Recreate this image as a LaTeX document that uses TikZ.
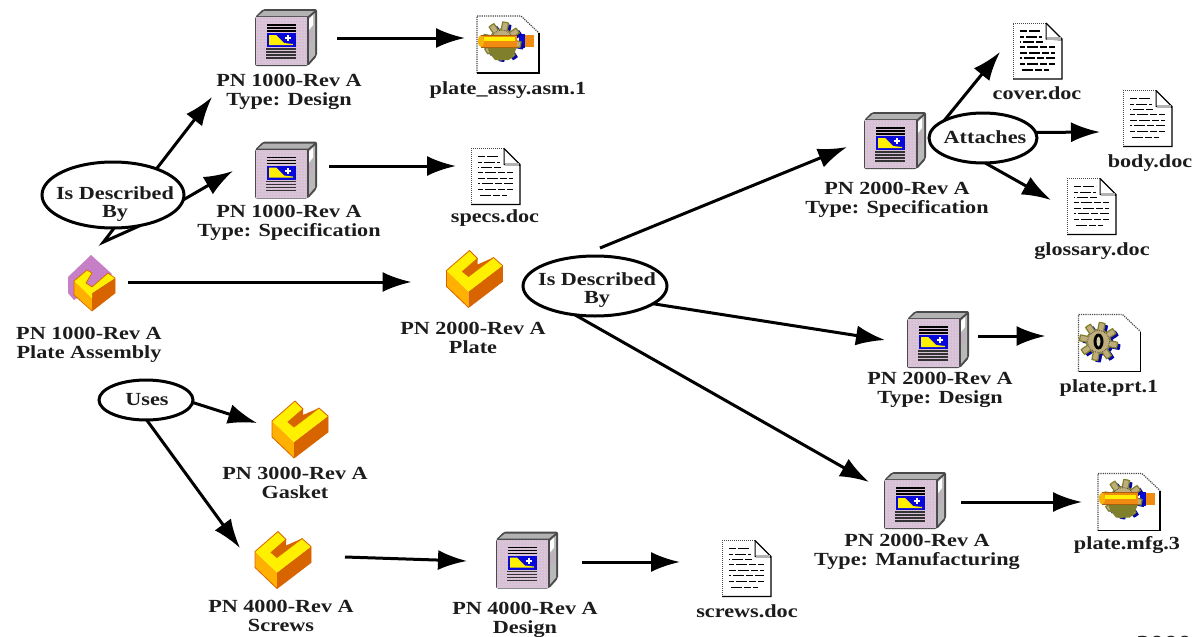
\documentclass[tikz,border=0pt]{standalone}
\usepackage{fontspec}
\setmainfont[FakeStretch=1.2]{Liberation Serif}
\usetikzlibrary{arrows.meta,shapes.geometric,calc,patterns}
\definecolor{ink}{HTML}{1C1C1C}
\definecolor{bindfill}{HTML}{DCC4DA}
\definecolor{bindedge}{HTML}{4A4A4A}
\definecolor{imgblue}{HTML}{0808D8}
\definecolor{partyel}{HTML}{FFF000}
\definecolor{partlight}{HTML}{FFB000}
\definecolor{partdark}{HTML}{D86400}
\definecolor{partpurple}{HTML}{C87CC8}
\definecolor{gearfill}{HTML}{BFAE7C}
\definecolor{gearolive}{HTML}{80802C}
\definecolor{axle}{HTML}{F08A10}
\tikzset{
  x=1pt,y=-1pt,
  arr/.style={line width=3pt,draw=black,-{Latex[length=29pt,width=20pt]}},
  plainline/.style={line width=3pt,draw=black,line join=miter},
  lab/.style={font=\fontsize{18.5}{18.4}\selectfont\bfseries,text=ink,align=center,inner sep=0pt,outer sep=0pt},
  oval/.style={ellipse,draw=black,line width=3pt,inner sep=0pt,outer sep=0pt},
  iconbox/.style={rectangle,inner sep=0pt,outer sep=0pt,minimum width=#1},
  binder/.pic={
    \fill[bindedge,rounded corners=2pt] (0,8) -- (8,0) -- (62,0) -- (62,47) -- (53,57) -- (0,57) -- cycle;
    \fill[gray!60] (3,7) -- (9,2) -- (59,2) -- (53,7) -- cycle;
    \fill[gray!55] (54,9) -- (60,4) -- (60,46) -- (54,53) -- cycle;
    \fill[white] (54,10) -- (58,6) -- (58,16) -- (54,21) -- cycle;
    \fill[bindfill!70!gray] (54,24) -- (58,20) -- (58,30) -- (54,35) -- cycle;
    \fill[bindfill] (1,8) rectangle (52,56);
    \fill[pattern=dots,pattern color=gray!70] (1,8) rectangle (52,56);
    \foreach \yy in {16,19,22} {\draw[black,line width=1.2pt] (12,\yy) -- (41,\yy);}
    \fill[imgblue] (12,24) rectangle (41,38);
    \fill[partyel] (14,26) -- (21,26) -- (29,34) -- (38,35) -- (38,36) -- (14,36) -- cycle;
    \fill[white] (31.5,26) rectangle (33.5,32);
    \fill[white] (29.5,28) rectangle (35.5,30);
    \foreach \yy in {40,43,46,49} {\draw[black!80,line width=1.2pt] (11,\yy) -- (41,\yy);}
  },
  part/.pic={
    \fill[partlight] (0,20) -- (22,41) -- (22,57) -- (0,36) -- cycle;
    \fill[partdark] (22,41) -- (56,15) -- (56,31) -- (22,57) -- cycle;
    \fill[partdark] (31,8) -- (31,14) -- (47,7) -- (22,26) -- (16,21) -- cycle;
    \fill[partyel] (0,20) -- (23,0) -- (31,8) -- (16,21) -- (22,26) -- (47,7) -- (56,15) -- (22,41) -- cycle;
    \draw[partdark,line width=0.8pt,line join=round] (0,20) -- (23,0) -- (31,8) -- (16,21) -- (22,26) -- (47,7) -- (56,15) -- (56,31) -- (22,57) -- (0,36) -- cycle;
  },
  asmpart/.pic={
    \fill[partpurple] (0,22) -- (23,0) -- (44,19) -- (30,30) -- (6,45) -- (0,38) -- cycle;
    \fill[pattern=dots,pattern color=gray!60] (0,22) -- (23,0) -- (44,19) -- (30,30) -- (6,45) -- (0,38) -- cycle;
    \fill[partlight] (6,26) -- (24,43) -- (24,56) -- (6,40) -- cycle;
    \fill[partdark] (24,38) -- (47,23) -- (47,38) -- (24,56) -- cycle;
    \fill[partyel] (6,26) -- (19,15) -- (24,18) -- (18,28) -- (24,32) -- (40,18) -- (47,23) -- (24,38) -- (24,43) -- cycle;
    \draw[partdark,line width=0.7pt] (6,26) -- (19,15) -- (24,18) -- (18,28) -- (24,32) -- (40,18) -- (47,23) -- (47,38) -- (24,56) -- (6,40) -- cycle;
  },
  docsheet/.pic={
    \fill[white] (0,0) -- (33,0) -- (49,16) -- (49,56) -- (0,56) -- cycle;
    \draw[bindedge,line width=1pt,densely dotted] (0,56) -- (0,0) -- (33,0);
    \draw[black,line width=1.3pt] (33,0) -- (49,16) -- (49,56) -- (0,56);
    \draw[black,line width=1pt] (33,0) -- (33,16) -- (49,17);
    \fill[gray!60] (33.5,14) rectangle (48,17);
  },
  docfile/.pic={
    \pic {docsheet};
    \foreach \yy/\xe/\ph in {8/29/0,14/29/3,19/30/6,24/42/2,30/42/0,35/42/5,41/42/2,47/36/7} {
      \draw[black,line width=1.6pt,dash pattern=on 7pt off 2pt on 11pt off 2pt,dash phase=\ph pt] (7,\yy) -- (\xe,\yy);
    }
  },
  widesheet/.pic={
    \fill[white] (0,0) -- (44,0) -- (62,17) -- (62,57) -- (0,57) -- cycle;
    \draw[bindedge,line width=1.2pt,densely dotted] (0,57) -- (0,0) -- (44,0) -- (62,17);
    \draw[black,line width=1.3pt] (62,17) -- (62,57) -- (0,57);
  },
  gearbody/.pic={
    \fill[imgblue!75!black] plot[domain=0:360,samples=145,shift={(3,2)}] ({\x}:{15.5+3.5*sign(sin(8*\x))}) -- cycle;
    \fill[gearfill,draw=gearolive,line width=1.2pt] plot[domain=0:360,samples=145] ({\x}:{15.5+3.5*sign(sin(8*\x))}) -- cycle;
    \draw[black!70,line width=0.8pt,densely dotted] (0,0) circle[radius=11];
  },
  gearplain/.pic={
    \pic {widesheet};
    \pic at (20,27) {gearbody};
    \fill[black] (20,27) ellipse[x radius=5,y radius=8];
    \fill[gearfill!60!white] (20,27) ellipse[x radius=2,y radius=5];
  },
  gearaxle/.pic={
    \pic {widesheet};
    \fill[axle] (46,19) rectangle (57,31);
    \fill[imgblue] (42,18) rectangle (48,32);
    \pic at (25,25) {gearbody};
    \fill[gearolive] (10,31) -- (40,31) -- (37,38) -- (32,44) -- (18,44) -- (13,38) -- cycle;
    \fill[axle] (4,19) rectangle (40,31);
    \fill[partyel] (7,21) rectangle (38,25);
    \fill[axle!60!partyel] (4,25) ellipse[x radius=3,y radius=6];
    \draw[axle!70!black,line width=0.7pt] (4,19) -- (40,19) (4,31) -- (40,31);
  }
}
\begin{document}
\begin{tikzpicture}
\useasboundingbox (0,0) rectangle (1195,637);
\clip (0,0) rectangle (1195,637);

% document (binder) icons
\node[iconbox=62,minimum height=57] (bina) at (286,37.5) {};
\node[iconbox=62,minimum height=57] (binb) at (286,170) {};
\node[iconbox=62,minimum height=57] (binc) at (895,140.5) {};
\node[iconbox=62,minimum height=57] (bind) at (938,339.5) {};
\node[iconbox=62,minimum height=57] (bine) at (915,500.5) {};
\node[iconbox=62,minimum height=57] (binf) at (527,560) {};
\foreach \n in {bina,binb,binc,bind,bine,binf} {\pic at (\n.north west) {binder};}

% parts
\node[iconbox=47,minimum height=56] (asm) at (91.5,283) {};
\pic at (asm.north west) {asmpart};
\node[iconbox=57,minimum height=57] (plate) at (475,279) {};
\node[iconbox=57,minimum height=57] (gasket) at (300.5,429.5) {};
\node[iconbox=57,minimum height=57] (screws) at (283.5,560) {};
\foreach \n in {plate,gasket,screws} {\pic at (\n.north west) {part};}

% plain files
\node[iconbox=50,minimum height=57] (cover) at (1038,51.5) {};
\node[iconbox=50,minimum height=57] (body) at (1148,119) {};
\node[iconbox=50,minimum height=57] (gloss) at (1092,207) {};
\node[iconbox=50,minimum height=57] (specs) at (496,177) {};
\node[iconbox=50,minimum height=57] (scdoc) at (747,569) {};
\foreach \n in {cover,body,gloss,specs,scdoc} {\pic at (\n.north west) {docfile};}

% model files
\node[iconbox=62,minimum height=57] (assyf) at (508,44.5) {};
\pic at (assyf.north west) {gearaxle};
\node[iconbox=62,minimum height=57] (prtf) at (1109.5,343) {};
\pic at (prtf.north west) {gearplain};
\node[iconbox=62,minimum height=57] (mfgf) at (1129,502) {};
\pic at (mfgf.north west) {gearaxle};

% labels
\node[lab] (la) at (289,92) {PN 1000-Rev A\\Type: Design};
\node[lab] (lb) at (289,223) {PN 1000-Rev A\\Type: Specification};
\node[lab] (lc) at (508,90) {plate\_assy.asm.1};
\node[lab] (ld) at (495,218) {specs.doc};
\node[lab] (le) at (89,345) {PN 1000-Rev A\\Plate Assembly};
\node[lab] (lf) at (473,338) {PN 2000-Rev A\\Plate};
\node[lab] (lg) at (897,200) {PN 2000-Rev A\\Type: Specification};
\node[lab] (lh) at (1037,93) {cover.doc};
\node[lab] (li) at (1150,163) {body.doc};
\node[lab] (lj) at (1092,251) {glossary.doc};
\node[lab] (lk) at (940,390) {PN 2000-Rev A\\Type: Design};
\node[lab] (ll) at (1109,388) {plate.prt.1};
\node[lab] (lm) at (917,552) {PN 2000-Rev A\\Type: Manufacturing};
\node[lab] (ln) at (1127,545) {plate.mfg.3};
\node[lab] (lo) at (295,483) {PN 3000-Rev A\\Gasket};
\node[lab] (lp) at (281,616) {PN 4000-Rev A\\Screws};
\node[lab] (lq) at (525,620) {PN 4000-Rev A\\Design};
\node[lab] (lr) at (747,611) {screws.doc};
\node[lab,font=\fontsize{23}{24}\selectfont\bfseries,anchor=base] (ls) at (1164,651) {2000};

% relation ovals
\node[oval,minimum width=142,minimum height=66] (ovala) at (113,195) {};
\node[lab] (ta) at (115,204) {Is Described\\By};
\node[oval,minimum width=144,minimum height=60] (ovalb) at (595,286) {};
\node[lab] (tb) at (597,290) {Is Described\\By};
\node[oval,minimum width=108,minimum height=50] (ovalc) at (983,138) {};
\node[lab] (tc) at (985,137) {Attaches};
\node[oval,minimum width=94,minimum height=40] (ovald) at (146,400) {};
\node[lab] (td) at (147,400) {Uses};

% connectors
\draw[arr] (ovala.31) -- ($(la)+(-77,5)$);
\draw[arr] (ovala.-4) -- ($(binb.west)+(-22,1)$);
\draw[plainline] (ovala.-48) -- ($(asm.north)+(12,-13)$) -- (ovala.-88);
\draw[arr] ($(asm.east)+(13,-1)$) -- ($(plate.west)+(-35,3)$);
\draw[arr] ($(bina.east)+(20,0.5)$) -- ($(assyf.west)+(-12,-6.5)$);
\draw[arr] ($(binb.east)+(12,-4)$) -- ($(specs.west)+(-15,-11)$);
\draw[arr] ($(ovalb.90)+(5,-8)$) -- ($(binc.west)+(-17,6.5)$);
\draw[arr] (ovalb.-17) -- ($(bind.west)+(-22,0.5)$);
\draw[arr] (ovalb.-125) -- ($(bine.west)+(-15,-18.5)$);
\draw[arr] (ovalc.156) -- ($(cover.west)+(-13,0.5)$);
\draw[arr] (ovalc.6) -- ($(body.west)+(-23,13)$);
\draw[arr] (ovalc.-85) -- ($(gloss.west)+(-16,-7)$);
\draw[arr] ($(bind.east)+(9,-3.5)$) -- ($(prtf.west)+(-33,-7)$);
\draw[arr] ($(bine.east)+(15,1.5)$) -- ($(mfgf.west)+(-16,0)$);
\draw[arr] (ovald.-3) -- ($(gasket.west)+(-15,-6.5)$);
\draw[arr] (ovald.-88) -- ($(screws.west)+(-15,-12)$);
\draw[arr] ($(screws.east)+(33,-3)$) -- ($(binf.west)+(-29,1)$);
\draw[arr] ($(binf.east)+(24,2)$) -- ($(scdoc.west)+(-42,-7)$);
\end{tikzpicture}
\end{document}
